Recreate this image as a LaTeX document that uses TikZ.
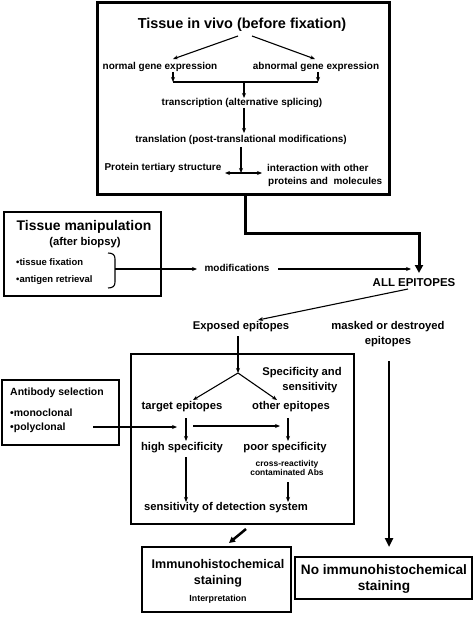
\documentclass[tikz,border=0pt]{standalone}
\usepackage{fontspec}
\setmainfont{Liberation Sans}
\usetikzlibrary{arrows.meta}
\begin{document}
\begin{tikzpicture}[x=1bp,y=-1bp,
  t/.style={inner sep=0pt, align=center, font=\bfseries\fontsize{#1}{#1}\selectfont},
  t/.default=10,
  box/.style={draw, line width=2bp},
  arr/.style={line width=1.1bp, -{Stealth[length=5bp,width=4bp]}},
  ln/.style={line width=1.1bp},
  thickarr/.style={line width=3bp, -{Triangle[length=8bp,width=8bp]}}]
\useasboundingbox (0,0) rectangle (474,621);
% boxes
\draw[line width=3bp] (97,3) rectangle (389,194);
\draw[box] (4,212) rectangle (161,296);
\draw[box] (131,354) rectangle (354,524);
\draw[box] (2,380) rectangle (119,445);
\draw[box] (142,547) rectangle (291,612);
\draw[box] (295,557) rectangle (472,599);
% top box texts
\node[t=14.5] (title) at (242,25) {Tissue in vivo (before fixation)};
\node[t] (normal) at (160,67) {normal gene expression};
\node[t] (abnormal) at (316,67) {abnormal gene expression};
\node[t] (transc) at (242,103) {transcription (alternative splicing)};
\node[t] (transl) at (241,140) {translation (post-translational modifications)};
\node[t] (protein) at (163,168) {Protein tertiary structure};
\node[t, align=left, anchor=west] (inter) at (267,175) {interaction with other\\[3bp]\hspace{1bp}proteins and\ \ molecules};
\coordinate (t1) at (238,36); \coordinate (t2) at (252,36);
\coordinate (n1) at (173,72); \coordinate (n2) at (173,82);
\coordinate (a1) at (318,72); \coordinate (a2) at (318,82);
\coordinate (m1) at (244,82); \coordinate (m2) at (244,98);
\draw[arr] (t1) -- (173,59);
\draw[arr] (t2) -- (315,59);
\draw[arr] (n1) -- (n2);
\draw[arr] (a1) -- (a2);
\draw[ln] (n2) -- (a2);
\draw[arr] (m1) -- (m2);
\draw[arr] (244,108) -- (244,133);
\coordinate (p0) at (241,147); \coordinate (p1) at (241,173);
\draw[arr] (p0) -- (p1);
\draw[line width=1.1bp, {Stealth[length=5bp,width=4bp]}-{Stealth[length=5bp,width=4bp]}] (225,173) -- (262,173);
% thick connector
\coordinate (k0) at (245,194); \coordinate (k1) at (245,233); \coordinate (k2) at (419,233); \coordinate (k3) at (419,273);
\draw[thickarr] (k0) -- (k1) -- (k2) -- (k3);
% tissue manipulation
\node[t=14] (tm) at (84,227) {Tissue manipulation};
\node[t=11.3] (ab) at (85,243) {(after biopsy)};
\node[t=9.5, anchor=west] (tf) at (16,262) {•tissue fixation};
\node[t=9.5, anchor=west] (ar) at (16,280) {•antigen retrieval};
\draw[line width=1.1bp] (108,253) .. controls (113,253) and (115,255) .. (115,259) -- (115,282) .. controls (115,286) and (113,288) .. (108,288);
\coordinate (br) at (115,269);
\node[t=10] (mod) at (237,268) {modifications};
\draw[arr] (br) -- (197,269);
\draw[arr] (278,269) -- (411,269);
\node[t=11.5] (all) at (414,283) {ALL EPITOPES};
\node[t=11.3] (exp) at (241,327) {Exposed epitopes};
\node[t=11.3] (mask) at (388,334) {masked or destroyed\\[4bp]epitopes};
\draw[arr] (408,289) -- (258,320);
% middle box
\coordinate (j) at (238,373);
\draw[arr] (238,336) -- (j);
\draw[arr] (j) -- (193,400);
\draw[arr] (j) -- (277,400);
\node[t=11.3] (spec) at (302,380) {Specificity and\\[3bp]\hspace{1.4em}sensitivity};
\node[t=11.3] (target) at (182,407) {target epitopes};
\node[t=11.3] (other) at (291,407) {other epitopes};
\node[t=10.5, anchor=west] (abs) at (10,393) {Antibody selection};
\node[t=10.5, anchor=west, align=left] (mono) at (10,421) {•monoclonal\\[3bp]•polyclonal};
\draw[arr] (93,427) -- (177,427);
\draw[arr] (186,418) -- (186,441);
\draw[arr] (193,426) -- (280,426);
\draw[arr] (288,418) -- (288,441);
\node[t=11.3] (high) at (182,448) {high specificity};
\node[t=11.3] (poor) at (285,448) {poor specificity};
\node[t=8.5] (cross) at (287,468) {cross-reactivity\\[1bp]contaminated Abs};
\draw[arr] (186,457) -- (186,502);
\draw[arr] (288,482) -- (288,502);
\node[t=11.3] (sens) at (226,508) {sensitivity of detection system};
% right line
\draw[line width=2.5bp, -{Triangle[length=9bp,width=8bp]}] (389,361) -- (389,547);
\draw[line width=2.5bp, -{Triangle[length=6bp,width=6bp]}] (246,529) -- (229,543);
\node[t=12.6] (imm) at (218,573) {Immunohistochemical\\[3bp]staining};
\node[t=8.9] (interp) at (218,599) {Interpretation};
\node[t=13.7] (noimm) at (384,579) {No immunohistochemical\\[3bp]staining};
\end{tikzpicture}
\end{document}
